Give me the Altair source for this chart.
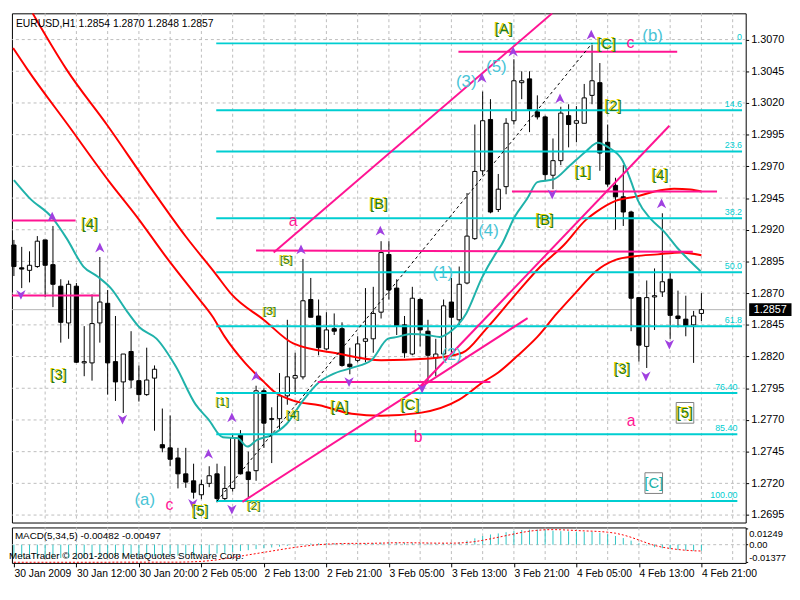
import altair as alt
import pandas as pd

# ---------------- data ----------------
opens = [1.2908,1.2890,1.2888,1.2891,1.2912,1.28925,1.28755,1.28465,1.28755,1.2815,
 1.2815,1.28465,1.2862,1.2816,1.2800,1.2824,1.2801,1.2790,1.2803,1.27505,
 1.2748,1.2740,1.27275,1.2722,1.2711,1.2720,1.27275,1.2708,1.2716,1.2758,
 1.2729,1.2730,1.2793,1.2771,1.2771,1.2789,1.2803,1.2804,1.2865,1.2852,
 1.2826,1.2842,1.2842,1.2814,1.2817,1.2832,1.2834,1.2855,1.29005,1.2874,
 1.2845,1.2822,1.2865,1.2840,1.2819,1.2822,1.2863,1.2849,1.2878,1.2913,
 1.29665,1.3007,1.2936,1.2954,1.3006,1.3036,1.3039,1.3013,1.3009,1.2963,
 1.29745,1.3010,1.3004,1.3004,1.3026,1.3036,1.2989,1.2955,1.2946,1.2934,
 1.28665,1.2828,1.2867,1.2871,1.2881,1.2852,1.28495,1.2845,1.2854]
highs = [1.2912,1.29065,1.2903,1.2915,1.2912,1.2923,1.2881,1.2880,1.2878,1.2844,
 1.2869,1.28985,1.28725,1.2852,1.2822,1.2840,1.2813,1.2827,1.2813,1.2779,
 1.27735,1.2748,1.2748,1.27355,1.2723,1.27335,1.27355,1.27335,1.2759,1.2762,
 1.2745,1.2797,1.2795,1.2780,1.2807,1.2849,1.2823,1.2897,1.2882,1.2865,
 1.2855,1.2854,1.2847,1.2827,1.2836,1.2874,1.2875,1.2911,1.2911,1.2881,
 1.2852,1.2875,1.2866,1.2849,1.2834,1.2865,1.2882,1.2891,1.2949,1.3003,
 1.3029,1.3023,1.2964,1.3008,1.30545,1.3045,1.3045,1.3026,1.3010,1.2992,
 1.3017,1.3019,1.30175,1.3035,1.3066,1.30515,1.3003,1.2961,1.2971,1.2935,
 1.2867,1.2880,1.28895,1.2933,1.2886,1.2872,1.2868,1.2856,1.2870]
lows = [1.28835,1.2874,1.28785,1.2890,1.2867,1.2859,1.2831,1.2834,1.2815,1.28045,
 1.2801,1.2831,1.2790,1.2785,1.27755,1.2795,1.27845,1.2789,1.27615,1.27445,
 1.27335,1.2716,1.27165,1.2708,1.27075,1.2717,1.2705,1.2706,1.27135,1.2727,
 1.2709,1.2722,1.2748,1.2736,1.27615,1.2782,1.2790,1.2802,1.2851,1.2821,
 1.2825,1.2837,1.2812,1.2806,1.28155,1.28155,1.2823,1.2850,1.2865,1.2837,
 1.2819,1.2821,1.2828,1.2800,1.28045,1.2821,1.2823,1.2845,1.2877,1.2912,
 1.2963,1.2933,1.2934,1.2948,1.3003,1.3023,1.2997,1.3007,1.2959,1.2952,
 1.2971,1.2985,1.2989,1.3004,1.3019,1.29665,1.2954,1.2920,1.2923,1.2840,
 1.2816,1.2811,1.2841,1.2867,1.2834,1.2843,1.2836,1.2815,1.2848]
closes = [1.2891,1.2889,1.2892,1.2911,1.2892,1.2877,1.2847,1.2877,1.28155,1.2816,
 1.2846,1.2863,1.2815,1.2800,1.2822,1.28015,1.2790,1.28015,1.2810,1.2748,
 1.2739,1.27275,1.2721,1.2713,1.2719,1.2726,1.2708,1.2716,1.2756,1.27275,
 1.2723,1.2793,1.27675,1.27705,1.2789,1.2804,1.2805,1.2864,1.2851,1.2827,
 1.2841,1.2840,1.2813,1.2812,1.2830,1.2834,1.2854,1.2902,1.28725,1.2844,
 1.2823,1.2866,1.2841,1.2821,1.2822,1.2860,1.2851,1.2877,1.2915,1.2966,
 1.3006,1.2934,1.2952,1.3004,1.30375,1.30375,1.3015,1.3009,1.29635,1.29745,
 1.3012,1.3003,1.3006,1.3024,1.30375,1.29805,1.2956,1.2946,1.2934,1.2866,
 1.2829,1.28665,1.2868,1.2879,1.28525,1.2850,1.2844,1.2852,1.2857]

tick_bars = [0, 8, 16, 24, 32, 40, 48, 56, 64, 72, 80, 88]
tick_labels = ["30 Jan 2009", "30 Jan 12:00", "30 Jan 20:00", "2 Feb 05:00", "2 Feb 13:00",
               "2 Feb 21:00", "3 Feb 05:00", "3 Feb 13:00", "3 Feb 21:00", "4 Feb 05:00",
               "4 Feb 13:00", "4 Feb 21:00"]
grid_bars = [4, 8, 12, 16, 20, 24, 28, 32, 36, 40, 44, 48, 52, 56, 60, 64, 68, 72, 76, 80, 84, 88, 92]
price_ticks = [1.3070, 1.3045, 1.3020, 1.2995, 1.2970, 1.2945, 1.2920, 1.2895,
               1.2870, 1.2845, 1.2820, 1.2795, 1.2770, 1.2745, 1.2720, 1.2695]
last_price = 1.2857

red_upper_bar = [2.4, 6.75, 12, 17, 22, 25.75, 27.9, 32, 35.75, 41.6, 47, 53.25, 57.4, 60.4,
                 64.5, 67.4, 70.4, 73.25, 74.5, 77, 79.9, 82, 84.5, 86.6, 88]
red_upper_price = [1.30907, 1.30463, 1.30020, 1.29576, 1.29147, 1.28858, 1.28688, 1.28489,
                   1.28304, 1.28222, 1.28171, 1.28185, 1.28230, 1.28415, 1.28710, 1.28910,
                   1.29080, 1.29280, 1.29339, 1.29428, 1.29465, 1.29502, 1.29524, 1.29517, 1.29502]
red_lower_bar = [-0.1, 1.75, 7, 12.25, 15.75, 19.5, 23.25, 25.4, 27, 29.5, 32, 33.25, 35.75,
                 39.1, 43.25, 47, 52, 57, 60.1, 62, 64.5, 67, 69.5, 72, 74.5, 77, 79.5, 82.4, 85.4, 88]
red_lower_price = [1.30633, 1.30463, 1.30020, 1.29576, 1.29302, 1.28984, 1.28688, 1.28518,
                   1.28355, 1.28156, 1.28000, 1.27926, 1.27853, 1.27816, 1.27749, 1.27734,
                   1.27756, 1.27860, 1.28000, 1.28074, 1.28208, 1.28355, 1.28540, 1.28710,
                   1.28873, 1.28962, 1.28991, 1.29006, 1.29021, 1.28999]
teal_bar = [0, 2, 4.9, 6.75, 8.9, 10.75, 12.4, 14.5, 16.1, 18.25, 20.75, 23.25, 24.9, 26.75,
            28.6, 29.9, 31.1, 32.9, 34.9, 37, 39.1, 40.75, 43.25, 45.75, 47.9, 49.1, 50.75,
            52.9, 54.5, 56.1, 57.9, 59.9, 61.6, 62.4, 64.1, 65.75, 67, 69.1, 71.1, 73.25,
            74.75, 76.1, 77.9, 78.9, 79.9, 81.6, 83.25, 84.9, 86.4, 87.9]
teal_price = [1.29591, 1.29450, 1.29295, 1.29132, 1.28910, 1.28829, 1.28740, 1.28555, 1.28429,
              1.28341, 1.28119, 1.27823, 1.27705, 1.27564, 1.27557, 1.27490, 1.27542, 1.27579,
              1.27668, 1.27853, 1.28000, 1.28060, 1.28111, 1.28171, 1.28341, 1.28355, 1.28378,
              1.28370, 1.28355, 1.28407, 1.28540, 1.28821, 1.29006, 1.29080, 1.29302, 1.29450,
              1.29576, 1.29598, 1.29702, 1.29820, 1.29886, 1.29849, 1.29746, 1.29598, 1.29428,
              1.29280, 1.29184, 1.29058, 1.28962, 1.28873]

fib_names = ["0", "14.6", "23.6", "38.2", "50.0", "61.8", "76.40", "85.40", "100.00"]
fib_prices = [1.3067, 1.30143, 1.29818, 1.29291, 1.28865, 1.28439, 1.27912, 1.27587, 1.2706]
fib_from_bar = [25.9, 25.9, 25.9, 25.9, 25.9, 25.9, 25.9, 25.9, 25.9]
fib_to_bar = [93.2, 93.2, 93.2, 93.2, 93.2, 93.2, 92.6, 92.6, 92.6]

trend_bar = [26, 74]
trend_price = [1.2706, 1.3067]

pink_bar1 = [-0.5, -0.5, 56.9, 31.0, 63.75, 38.9, 33.25, 52.0, 29.25]
pink_p1 = [1.29273, 1.28681, 1.30604, 1.29036, 1.29502, 1.28000, 1.29021, 1.27964, 1.27054]
pink_bar2 = [7.9, 10.9, 84.9, 86.9, 90.0, 61.0, 68.9, 83.9, 65.75]
pink_p2 = [1.29273, 1.28681, 1.30604, 1.29026, 1.29502, 1.28000, 1.30907, 1.30020, 1.28503]

up_bar = [4.9, 11, 24.9, 27.9, 31, 36.75, 46.9, 59.9, 63.9, 69.9, 73.9, 82.9]
up_price = [1.29302, 1.29058, 1.27431, 1.27719, 1.28045, 1.29043, 1.29191, 1.30397, 1.30604,
            1.30234, 1.30737, 1.29406]
down_bar = [0.9, 13.9, 22.9, 27.9, 42.9, 52.25, 68.9, 80.9, 83.9]
down_price = [1.28688, 1.27705, 1.27039, 1.26995, 1.28000, 1.27949, 1.29480, 1.28045, 1.28296]

green_text = ["[A]", "[C]", "[2]", "[1]", "[B]", "[4]", "[3]", "[5]", "[B]", "[5]", "[3]",
              "[4]", "[1]", "[2]", "[A]", "[C]", "[4]", "[3]", "[5]"]
green_bar = [62.75, 75.9, 76.75, 72.9, 68.0, 82.75, 77.9, 85.9, 46.75, 34.9, 32.75, 35.75,
             26.75, 30.75, 41.75, 50.75, 9.75, 5.75, 23.9]
green_price = [1.30781, 1.30663, 1.30175, 1.29657, 1.29280, 1.29628, 1.28104, 1.27756, 1.29406,
               1.28962, 1.28555, 1.27742, 1.27838, 1.27024, 1.27801, 1.27816, 1.29243, 1.28052, 1.26980]
green_size = [15, 15, 15, 15, 15, 15, 15, 15, 15, 12, 12, 12, 12, 12, 15, 15, 15, 15, 15]

boxed_text = ["[C]"]
boxed_bar = [81.9]
boxed_price = [1.27202]
box_bar = [85.9, 81.9]
box_price = [1.27756, 1.27202]

cyan_text = ["(a)", "(b)", "(1)", "(2)", "(3)", "(4)", "(5)"]
cyan_bar = [16.75, 81.75, 54.9, 56.0, 57.9, 60.75, 61.75]
cyan_price = [1.27069, 1.30730, 1.28858, 1.28208, 1.30367, 1.29191, 1.30486]

pink_text = ["a", "b", "c", "c", "a"]
pink_tbar = [35.75, 51.75, 19.9, 78.9, 79.0]
pink_tprice = [1.29265, 1.27564, 1.27032, 1.30670, 1.27690]

macd_hist = [-0.0100, -0.0102, -0.0104, -0.0103, -0.0101, -0.0103, -0.0105, -0.0105,
             -0.0106, -0.0105, -0.0103, -0.0101, -0.0101, -0.0100, -0.0099, -0.0097,
             -0.0096, -0.0094, -0.0092, -0.0090, -0.0088, -0.0086, -0.0083, -0.0080,
             -0.0077, -0.0073, -0.0070, -0.0064, -0.0057, -0.0050, -0.0043, -0.0035,
             -0.0028, -0.0022, -0.0016, -0.0010, -0.0004, 0.0004, 0.0009, 0.0011,
             0.0012, 0.0011, 0.0010, 0.0009, 0.0009, 0.0010, 0.0012, 0.0016,
             0.0018, 0.0017, 0.0015, 0.0015, 0.0014, 0.0012, 0.0011, 0.0012,
             0.0014, 0.0020, 0.0032, 0.0050, 0.0068, 0.0080, 0.0088, 0.0098,
             0.0108, 0.0115, 0.0118, 0.0118, 0.0114, 0.0110, 0.0106, 0.0104,
             0.0102, 0.0100, 0.0101, 0.0094, 0.0082, 0.0068, 0.0052, 0.0032,
             0.0012, -0.0006, -0.0020, -0.0028, -0.0036, -0.0042, -0.0046, -0.0048, -0.00482]
macd_signal = [-0.0138, -0.0138, -0.0138, -0.0138, -0.0138, -0.0138, -0.0138, -0.0138,
               -0.0138, -0.0138, -0.0138, -0.0138, -0.0138, -0.0137, -0.0137, -0.0137,
               -0.0137, -0.0137, -0.0137, -0.0137, -0.0137, -0.0137, -0.0136, -0.0134,
               -0.0131, -0.0126, -0.0119, -0.0110, -0.0100, -0.0090, -0.0080, -0.0070,
               -0.0060, -0.0050, -0.0040, -0.0030, -0.0021, -0.0013, -0.0006, 0.0000,
               0.0004, 0.0007, 0.0009, 0.0010, 0.0010, 0.0010, 0.0011, 0.0012,
               0.0014, 0.0015, 0.0015, 0.0015, 0.0014, 0.0013, 0.0012, 0.0012,
               0.0012, 0.0013, 0.0017, 0.0024, 0.0034, 0.0046, 0.0058, 0.0071,
               0.0084, 0.0096, 0.0106, 0.0113, 0.0117, 0.0118, 0.0117, 0.0114,
               0.0111, 0.0108, 0.0106, 0.0103, 0.0098, 0.0090, 0.0076, 0.0058,
               0.0036, 0.0014, -0.0006, -0.0020, -0.0030, -0.0038, -0.0044, -0.0048, -0.00497]
macd_axis_values = [0.01249, 0.0, -0.01377]

# ---------------- layout / scales ----------------
W, H, MH = 745, 517, 36
FONT = "Liberation Sans"
xs = alt.Scale(domain=[-0.25, 93.67], nice=False, zero=False)
ys = alt.Scale(domain=[1.26891, 1.30907], nice=False, zero=False)
ms = alt.Scale(domain=[-0.0143, 0.0135], nice=False, zero=False)

YAX = alt.Axis(orient="right", values=price_ticks, format=".4f", title=None, grid=False, domain=False,
               tickSize=3, tickColor="black", labelPadding=2, labelFont=FONT, labelFontSize=11,
               labelColor="black", labelOverlap=False)
label_expr = "[" + ",".join("'" + s + "'" for s in tick_labels) + "][round(datum.value / 8)]"
MXAX = alt.Axis(values=tick_bars, labelExpr=label_expr, labelAlign="left", labelPadding=2, tickSize=4,
                tickColor="black", domain=False, grid=False, title=None, labelFont=FONT,
                labelFontSize=10.5, labelOverlap=False, labelFlush=False, labelBound=False,
                labelColor="black")
MYAX = alt.Axis(orient="right", values=macd_axis_values,
                labelExpr="datum.value > 0.001 ? '0.01249' : (datum.value < -0.001 ? '-0.01377' : '0.00')",
                labelFlush=6, labelOverlap=False, tickSize=2, tickColor="black", labelPadding=1,
                domain=False, grid=False, title=None, labelFont=FONT, labelFontSize=9.5,
                labelColor="black")


def xq(f="bar"):
    return alt.X(f"{f}:Q", scale=xs, axis=None)


def yq(f="price"):
    return alt.Y(f"{f}:Q", scale=ys, axis=YAX)


def mx(f="bar"):
    return alt.X(f"{f}:Q", scale=xs, axis=MXAX)


def my(f):
    return alt.Y(f"{f}:Q", scale=ms, axis=MYAX)


UP = "M0,-1L0.9,0.9L0,0.35L-0.9,0.9Z"
DOWN = "M0,1L0.9,-0.9L0,-0.35L-0.9,-0.9Z"
RECT = "M-1,-0.3H1V0.3H-1Z"
BOX = "M-0.85,-1H0.85V1H-0.85Z"

n = len(opens)
cdf = pd.DataFrame({"bar": list(range(n)), "open": opens, "high": highs, "low": lows, "close": closes})
cdf["lo"] = cdf[["open", "close"]].min(axis=1)
cdf["hi"] = cdf[["open", "close"]].max(axis=1)
cdf["fillc"] = ["white" if c >= o else "black" for o, c in zip(opens, closes)]
cdf["x0"] = cdf["bar"] - 0.27
cdf["x1"] = cdf["bar"] + 0.27

vgrid = alt.Chart(pd.DataFrame({"bar": grid_bars})).mark_rule(
    color="#BDBDBD", strokeDash=[3, 3], strokeWidth=1).encode(x=xq())
hgrid = alt.Chart(pd.DataFrame({"price": price_ticks})).mark_rule(
    color="#BDBDBD", strokeDash=[3, 3], strokeWidth=1).encode(y=yq())
curline = alt.Chart(pd.DataFrame({"price": [last_price]})).mark_rule(
    color="#B4B4B4", strokeWidth=1).encode(y=yq())

wicks = alt.Chart(cdf).mark_rule(color="black", strokeWidth=1).encode(
    x=xq(), y=yq("low"), y2="high")
bodies = alt.Chart(cdf).mark_rect(stroke="black", strokeWidth=1).encode(
    x=xq("x0"), x2="x1", y=yq("lo"), y2="hi", color=alt.Color("fillc:N", scale=None))

reddf = pd.concat([
    pd.DataFrame({"bar": red_upper_bar, "price": red_upper_price, "s": "u"}),
    pd.DataFrame({"bar": red_lower_bar, "price": red_lower_price, "s": "l"})])
red = alt.Chart(reddf).mark_line(color="#FF0000", strokeWidth=2, interpolate="monotone", clip=True).encode(
    x=xq(), y=yq(), detail="s:N", order="bar:Q")
teal = alt.Chart(pd.DataFrame({"bar": teal_bar, "price": teal_price})).mark_line(
    color="#20B2AA", strokeWidth=2, interpolate="monotone", clip=True).encode(x=xq(), y=yq(), order="bar:Q")

fibdf = pd.DataFrame({"name": fib_names, "price": fib_prices, "b1": fib_from_bar, "b2": fib_to_bar})
fib = alt.Chart(fibdf).mark_rule(color="#00CED1", strokeWidth=2, clip=True).encode(
    x=xq("b1"), x2="b2", y=yq())
fibtxt = alt.Chart(fibdf).mark_text(color="#00CED1", align="right", baseline="bottom", dy=-1,
                                    fontSize=9, font=FONT).encode(x=xq("b2"), y=yq(), text="name:N")

pinkdf = pd.DataFrame({"b1": pink_bar1, "p1": pink_p1, "b2": pink_bar2, "p2": pink_p2})
pink = alt.Chart(pinkdf).mark_rule(color="#FF1493", strokeWidth=2, clip=True).encode(
    x=xq("b1"), x2="b2", y=yq("p1"), y2="p2")

trend = alt.Chart(pd.DataFrame({"bar": trend_bar, "price": trend_price})).mark_line(
    color="black", strokeWidth=1, strokeDash=[3, 3]).encode(x=xq(), y=yq())

ups = alt.Chart(pd.DataFrame({"bar": up_bar, "price": up_price})).mark_point(
    shape=UP, filled=True, size=110, color="#A040E0", opacity=1).encode(x=xq(), y=yq())
downs = alt.Chart(pd.DataFrame({"bar": down_bar, "price": down_price})).mark_point(
    shape=DOWN, filled=True, size=110, color="#A040E0", opacity=1).encode(x=xq(), y=yq())

boxes = alt.Chart(pd.DataFrame({"bar": box_bar, "price": box_price})).mark_point(
    shape=BOX, filled=False, size=441, color="#808080", strokeWidth=1, opacity=1).encode(x=xq(), y=yq())

gdf = pd.DataFrame({"bar": green_bar, "price": green_price, "t": green_text, "fs": green_size})
gshadow = alt.Chart(gdf).mark_text(color="#E6D200", dx=-1, dy=-1, font=FONT).encode(
    x=xq(), y=yq(), text="t:N", size=alt.Size("fs:Q", scale=None))
gtext = alt.Chart(gdf).mark_text(color="#1E7B1E", font=FONT).encode(
    x=xq(), y=yq(), text="t:N", size=alt.Size("fs:Q", scale=None))
bdf = pd.DataFrame({"bar": boxed_bar, "price": boxed_price, "t": boxed_text})
btext = alt.Chart(bdf).mark_text(color="#20B2AA", font=FONT, fontSize=15).encode(
    x=xq(), y=yq(), text="t:N")
cdf2 = pd.DataFrame({"bar": cyan_bar, "price": cyan_price, "t": cyan_text})
ctext = alt.Chart(cdf2).mark_text(color="#48C4D6", font=FONT, fontSize=17).encode(
    x=xq(), y=yq(), text="t:N")
pdf2 = pd.DataFrame({"bar": pink_tbar, "price": pink_tprice, "t": pink_text})
ptext = alt.Chart(pdf2).mark_text(color="#FF1493", font=FONT, fontSize=16).encode(
    x=xq(), y=yq(), text="t:N")

title = alt.Chart(pd.DataFrame({"t": ["EURUSD,H1  1.2854 1.2870 1.2848 1.2857"]})).mark_text(
    align="left", baseline="middle", fontSize=10.5, font=FONT, color="black").encode(
    x=alt.value(4), y=alt.value(11), text="t:N")

tagdf = pd.DataFrame({"price": [last_price], "t": ["1.2857"]})
tag = alt.Chart(tagdf).mark_point(shape=RECT, filled=True, size=1849, color="black", opacity=1).encode(
    x=alt.value(W + 25), y=yq())
tagtxt = alt.Chart(tagdf).mark_text(color="white", fontSize=11, font=FONT, baseline="middle").encode(
    x=alt.value(W + 25), y=yq(), text="t:N")

main = alt.layer(vgrid, hgrid, curline, wicks, bodies, red, teal, fib, fibtxt, pink, trend,
                 ups, downs, boxes, gshadow, gtext, btext, ctext, ptext, title, tag, tagtxt
                 ).properties(width=W, height=H)

# ---------------- MACD panel ----------------
mdf = pd.DataFrame({"bar": list(range(n)), "hist": macd_hist, "signal": macd_signal, "zero": [0.0] * n})

mvgrid = alt.Chart(pd.DataFrame({"bar": grid_bars})).mark_rule(
    color="#BDBDBD", strokeDash=[3, 3], strokeWidth=1).encode(x=mx())
mzero = alt.Chart(pd.DataFrame({"v": [0.0]})).mark_rule(
    color="#BDBDBD", strokeDash=[3, 3], strokeWidth=1).encode(y=my("v"))
mhist = alt.Chart(mdf).mark_rule(color="#2EC4C4", strokeWidth=1).encode(
    x=mx(), y=my("zero"), y2="hist")
msig = alt.Chart(mdf).mark_line(color="#FF0000", strokeWidth=1, strokeDash=[2, 2], clip=True).encode(
    x=mx(), y=my("signal"))
mtitle = alt.Chart(pd.DataFrame({"t": ["MACD(5,34,5) -0.00482 -0.00497"]})).mark_text(
    align="left", baseline="middle", fontSize=10, font=FONT, color="black").encode(
    x=alt.value(3), y=alt.value(9), text="t:N")
mcopy = alt.Chart(pd.DataFrame({"t": ["MetaTrader © 2001-2008 MetaQuotes Software Corp."]})).mark_text(
    align="left", baseline="middle", fontSize=10, font=FONT, color="black").encode(
    x=alt.value(-3), y=alt.value(29), text="t:N")

macd = alt.layer(mvgrid, mzero, mhist, msig, mtitle, mcopy).properties(width=W, height=MH)

chart = alt.vconcat(main, macd, spacing=3).properties(
    padding={"left": 0, "right": 0, "top": 0, "bottom": 0}, background="white"
).configure(font=FONT).configure_view(stroke="black", strokeWidth=1)

chart.save("out.html", embed_options={"renderer": "svg", "actions": False})
